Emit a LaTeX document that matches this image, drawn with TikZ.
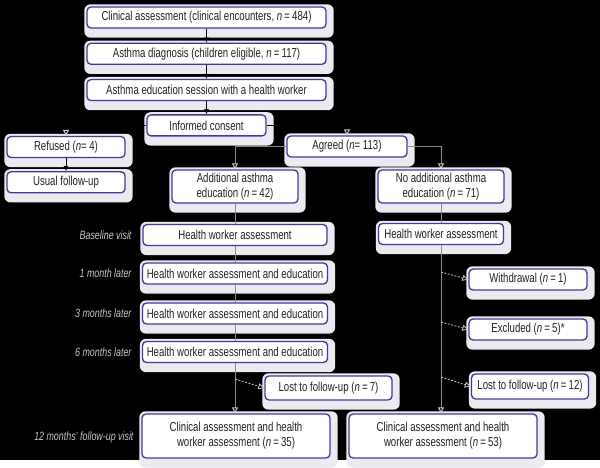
\documentclass[tikz,border=0pt]{standalone}
\usepackage{fontspec}
\setmainfont{Liberation Sans}[FakeStretch=0.74]
\usetikzlibrary{arrows.meta}
\usetikzlibrary{backgrounds}
\usetikzlibrary{positioning}
\definecolor{boxblue}{HTML}{3C3C96}
\definecolor{glow}{HTML}{EAEAF0}
\definecolor{linegray}{HTML}{8A8A8A}
\definecolor{textgray}{HTML}{222222}
\definecolor{labelgray}{HTML}{C8C8C8}
\tikzset{
  box/.style={
    draw=boxblue,
    fill=white,
    rectangle,
    rounded corners=4pt,
    line width=1.3pt,
    text=textgray,
    font=\fontsize{13}{15}\selectfont,
    align=center,
    minimum height=21pt,
    inner xsep=3pt,
    inner ysep=1pt,
  },
  tallbox/.style={
    box,
    minimum height=33pt,
  },
  halo/.style={
    fill=glow,
    rounded corners=6pt,
  },
  stage/.style={
    anchor=east,
    text=labelgray,
    font=\fontsize{12}{14}\selectfont\itshape,
  },
  solidflow/.style={
    draw,
    black,
    line width=1pt,
    -{Latex[length=5pt,width=5pt]},
  },
  hiddenflow/.style={
    draw,
    black,
    line width=1pt,
    -{Triangle[open,length=6pt,width=6pt,color=labelgray]},
  },
  openflow/.style={
    draw,
    linegray,
    line width=1pt,
    -{Triangle[open,length=6pt,width=6pt,color=labelgray]},
  },
  trunk/.style={
    draw,
    linegray,
    line width=1pt,
  },
  dropout/.style={
    draw,
    labelgray,
    dashed,
    dash pattern=on 2pt off 1.5pt,
    line width=0.8pt,
    -{Triangle[open,length=6pt,width=6pt]},
  },
}

\begin{document}
\begin{tikzpicture}[x=1pt,y=-1pt]
  \node (clinical)  [box,minimum width=239pt] at (206.5,17.5)
    {Clinical assessment (clinical encounters, \textit{n}\,=\,484)};
  \node (diagnosis) [box,minimum width=239pt,below=14pt of clinical]
    {Asthma diagnosis (children eligible, \textit{n}\,=\,117)};
  \node (session)   [box,minimum width=239pt,below=14pt of diagnosis]
    {Asthma education session with a health worker};
  \node (consent)   [box,minimum width=119pt,below=13pt of session] {Informed consent};

  \node (refused)   [box,minimum width=118pt] at (66,147) {Refused (\textit{n}=\ 4)};
  \node (usual)     [box,minimum width=118pt,below=13pt of refused] {Usual follow-up};
  \node (agreed)    [box,minimum width=120pt] at (347,146.5) {Agreed (\textit{n}=\ 113)};

  \node (addl)      [tallbox,minimum width=126pt] at (235,186.5)
    {Additional asthma\\education (\textit{n}\,=\,42)};
  \node (noaddl)    [tallbox,minimum width=126pt] at (441,186.5)
    {No additional asthma\\education (\textit{n}\,=\,71)};

  \node (baseL)  [box,minimum width=184pt] at (235,235) {Health worker assessment};
  \node (month1) [box,minimum width=185pt] at (235,273.5) {Health worker assessment and education};
  \node (month3) [box,minimum width=185pt] at (235,313.5) {Health worker assessment and education};
  \node (month6) [box,minimum width=185pt] at (235,352) {Health worker assessment and education};
  \node (lostL)  [box,minimum width=127pt,minimum height=24pt] at (328.5,388)
    {Lost to follow-up (\textit{n}\,=\,7)};
  \node (finalL) [box,minimum width=188pt,minimum height=44pt] at (236,436)
    {Clinical assessment and health\\worker assessment (\textit{n}\,=\,35)};

  \node (baseR)    [box,minimum width=125pt] at (441,234) {Health worker assessment};
  \node (withdraw) [box,minimum width=118pt] at (528,279.5) {Withdrawal (\textit{n}\,=\,1)};
  \node (excluded) [box,minimum width=118pt] at (528,329.5) {Excluded (\textit{n}\,=\,5)*};
  \node (lostR)    [box,minimum width=117pt,minimum height=25pt] at (530,386.5)
    {Lost to follow-up (\textit{n}\,=\,12)};
  \node (finalR)   [box,minimum width=188pt,minimum height=44pt] at (443,436)
    {Clinical assessment and health\\worker assessment (\textit{n}\,=\,53)};

  % visit labels
  \node (lbase) [stage] at (135,235) {Baseline visit};
  \node (l1)    [stage] at (135,273.5) {1 month later};
  \node (l3)    [stage] at (135,313.5) {3 months later};
  \node (l6)    [stage] at (135,352) {6 months later};
  \node (l12)   [stage] at (137,437) {12 months' follow-up visit};

  \path [solidflow] (clinical) -- (diagnosis);
  \path [solidflow] (diagnosis) -- (session);
  \path [solidflow] (session) -- (consent);
  \path [hiddenflow] (consent.west) -| (refused.north);
  \path [hiddenflow] (consent.east) -| (agreed.north);
  \path [solidflow] (refused) -- (usual);
  \path [openflow] (agreed.west) -| (addl.north);
  \path [openflow] (agreed.east) -| (noaddl.north);

  \path [trunk] (addl) -- (baseL);
  \path [trunk] (baseL) -- (month1);
  \path [trunk] (month1) -- (month3);
  \path [trunk] (month3) -- (month6);
  \path [openflow] (month6.south) -- (month6.south |- finalL.north);
  \path [trunk] (noaddl) -- (baseR);
  \path [openflow] (baseR.south) -- (baseR.south |- finalR.north);

  \coordinate (offL) at (235,379);
  \coordinate (offW) at (441,272);
  \coordinate (offE) at (441,322);
  \coordinate (offR) at (441,377);
  \path [dropout] (offL) -- (lostL.west);
  \path [dropout] (offW) -- (withdraw.west);
  \path [dropout] (offE) -- (excluded.west);
  \path [dropout] (offR) -- (lostR.west);

  \begin{scope}[on background layer]
    \fill [black] (0,0) rectangle (600,460);
    \foreach \n in {clinical,diagnosis,session,consent,refused,usual,agreed,addl,noaddl,
                    baseL,month1,month3,month6,lostL,finalL,baseR,withdraw,excluded,lostR,finalR}
      \fill [halo] ([shift={(-2pt,2pt)}]\n.north west) rectangle ([shift={(7pt,-9pt)}]\n.south east);
  \end{scope}
\end{tikzpicture}
\end{document}
